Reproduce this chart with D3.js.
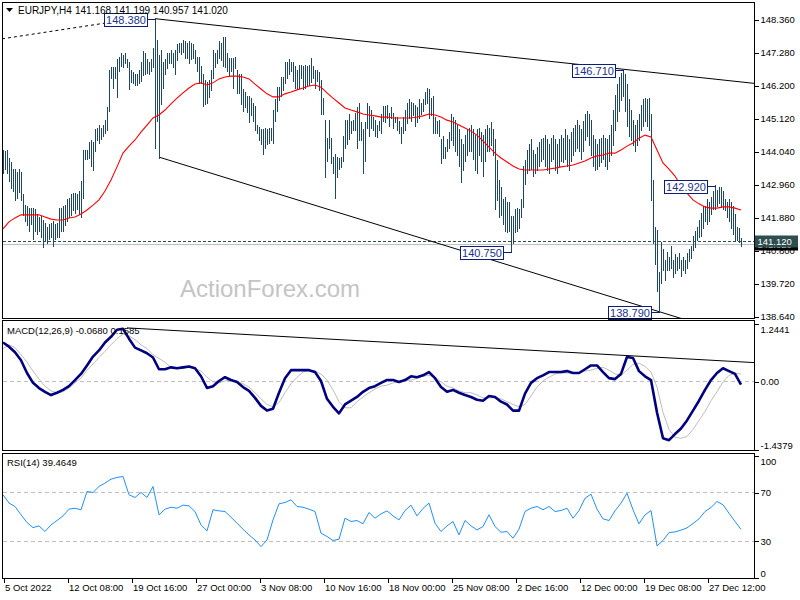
<!DOCTYPE html>
<html>
<head>
<meta charset="utf-8">
<script src="https://cdn.jsdelivr.net/npm/d3@7"></script>
<style>
  body { margin: 0; background: #fff; }
</style>
</head>
<body>
<div id="chart"></div>
<script>
// ---- data (EURJPY H4) ----
var barHigh = [
  144.05,144.02,144.08,143.82,143.66,143.43,143.43,143.33,143.43,143.33,
  142.61,142.28,142.22,142.18,142.18,142.18,142.12,141.96,141.86,141.89,
  141.79,141.69,141.56,141.63,141.69,141.73,141.63,141.69,142.18,142.18,
  142.22,142.28,142.45,142.51,142.61,142.67,142.67,142.61,142.71,143.04,
  144.08,144.08,144.08,144.34,144.38,144.34,144.74,144.80,144.87,144.80,
  144.87,145.06,145.46,146.70,146.77,146.77,146.77,147.03,147.12,147.25,
  147.19,147.25,147.03,146.96,146.70,146.63,146.54,146.54,146.70,146.93,
  147.29,147.25,147.03,146.96,147.03,147.42,148.38,147.68,147.19,147.35,
  146.96,147.03,147.25,147.25,147.35,147.25,147.35,147.52,147.58,147.58,
  147.68,147.62,147.58,147.62,147.58,147.52,147.35,147.12,147.12,146.80,
  146.54,146.37,146.28,146.37,146.70,147.35,147.25,147.35,147.62,147.58,
  147.75,147.75,147.25,147.09,147.09,147.09,147.12,146.70,146.54,146.54,
  146.05,145.95,145.82,145.82,145.78,145.62,145.49,144.90,144.83,144.74,
  144.74,144.80,144.74,144.80,144.80,145.39,145.72,146.14,146.14,146.44,
  146.44,146.93,146.93,147.03,146.96,146.96,146.80,146.70,146.86,146.86,
  146.80,146.86,146.80,146.86,147.09,146.80,146.70,146.70,146.63,146.37,
  145.78,145.06,144.47,145.06,144.47,143.85,143.92,143.85,143.82,143.85,
  144.51,145.06,145.06,145.23,145.00,145.06,145.29,145.46,145.62,144.97,
  144.74,144.97,145.62,145.49,145.39,145.16,145.06,144.90,145.00,145.23,
  145.49,145.49,145.55,145.29,145.46,145.29,145.16,145.13,145.00,144.83,
  145.16,145.39,145.62,145.72,145.65,145.62,145.55,145.46,145.72,145.62,
  145.72,145.95,146.11,146.05,145.78,145.82,145.16,145.00,145.06,144.41,
  144.51,144.18,144.41,144.64,145.23,145.13,145.06,144.90,144.74,144.41,
  144.25,144.57,144.74,144.80,144.90,144.74,144.57,144.74,144.80,144.67,
  144.57,144.74,144.90,144.80,144.97,144.74,144.41,143.75,143.10,142.87,
  142.45,142.54,142.38,142.35,141.89,141.89,142.12,142.18,142.12,142.45,
  143.53,143.75,144.08,144.25,144.41,144.08,143.92,144.15,144.34,144.41,
  144.47,144.57,144.41,144.25,144.47,144.57,144.41,144.25,144.41,144.57,
  144.47,144.74,144.57,144.41,144.67,144.80,144.90,145.06,144.90,144.74,
  145.00,145.23,145.33,145.23,145.06,144.57,144.41,144.25,144.41,144.47,
  144.57,144.47,144.41,144.57,144.90,145.39,145.88,146.21,146.44,146.60,
  146.71,146.54,146.21,145.72,145.39,145.06,144.90,145.06,145.23,145.55,
  145.72,145.78,145.72,145.78,145.23,143.10,141.56,141.46,140.06,141.04,
  140.81,140.48,140.74,140.58,140.91,140.48,140.65,140.58,140.71,140.48,
  140.58,140.48,140.71,140.81,140.91,141.24,141.40,141.56,141.79,142.02,
  142.22,142.22,142.45,142.35,142.54,142.71,142.92,142.77,142.87,142.84,
  142.71,142.45,142.38,142.45,142.38,142.22,141.96,141.56,141.50,141.199
];
var barLow = [
  143.33,143.49,143.36,143.10,142.87,142.77,142.45,142.54,142.71,142.45,
  141.96,141.79,141.63,141.46,141.69,141.20,141.46,141.36,141.46,141.24,
  140.91,141.14,141.07,141.20,141.24,140.97,141.20,141.24,141.24,141.46,
  141.46,141.63,141.79,141.89,141.96,142.12,142.05,142.18,142.02,141.89,
  142.54,143.82,143.82,143.85,143.59,143.43,144.08,144.41,144.34,144.47,
  144.57,144.64,144.74,145.39,146.44,146.14,146.47,145.82,146.70,146.86,
  146.80,146.93,146.80,146.11,146.31,146.28,146.21,146.21,146.28,146.37,
  146.54,146.60,146.63,146.60,146.70,146.80,144.15,145.06,143.85,145.62,
  146.14,146.60,146.77,146.93,146.96,146.80,146.60,147.03,147.29,147.25,
  147.29,147.12,147.12,146.96,147.09,147.12,146.93,146.70,146.28,146.28,
  145.55,145.62,145.65,145.82,146.05,146.47,146.80,146.93,147.12,147.03,
  146.86,146.80,146.70,146.54,146.70,146.14,146.77,145.98,145.95,145.62,
  145.39,145.49,145.33,145.00,145.23,145.06,144.74,144.64,144.41,144.31,
  143.98,144.18,144.31,144.34,144.41,144.34,145.06,145.39,145.72,145.88,
  146.05,146.28,146.47,146.60,146.70,146.37,146.14,146.11,146.14,146.44,
  146.11,146.14,146.21,146.21,146.31,146.47,146.14,146.37,146.05,145.29,
  145.29,143.20,143.75,144.18,143.66,143.33,142.54,143.20,143.49,143.53,
  143.75,144.18,144.31,144.47,144.64,144.74,144.74,144.18,144.41,144.41,
  143.36,143.75,144.83,144.57,144.83,144.74,144.57,144.51,144.74,144.64,
  145.06,145.00,145.13,144.90,145.16,144.83,145.00,144.74,144.64,144.34,
  144.64,144.74,144.97,145.16,145.06,145.23,144.90,145.00,145.16,145.29,
  145.39,145.62,145.65,145.16,145.23,144.64,144.67,144.64,144.57,143.66,
  143.85,143.85,144.08,144.18,144.41,144.25,144.08,143.92,143.59,143.04,
  143.43,143.75,143.92,144.08,144.08,143.82,143.43,143.36,143.92,143.75,
  143.26,143.75,144.08,144.08,144.25,143.92,142.18,142.45,141.89,141.96,
  141.69,141.46,141.40,141.46,140.75,141.04,141.40,141.46,141.56,141.89,
  142.22,143.00,143.33,143.43,143.49,143.26,143.36,143.43,143.59,143.75,
  143.82,143.59,143.43,143.36,143.75,143.82,143.43,143.36,143.59,143.75,
  143.69,143.82,143.59,143.43,143.75,143.92,144.08,144.15,144.08,143.82,
  144.08,144.41,144.57,144.25,143.92,143.59,143.43,143.49,143.59,143.69,
  143.82,143.59,143.49,143.75,143.92,144.25,144.74,145.06,145.39,145.72,
  145.88,145.39,144.90,144.57,144.41,144.25,144.08,144.25,144.41,144.74,
  144.90,145.06,144.90,144.74,142.45,141.04,140.38,139.50,138.79,139.73,
  140.16,139.83,140.16,140.16,140.25,139.93,140.06,140.16,140.25,139.99,
  140.16,140.06,140.25,140.48,140.58,140.81,140.91,141.14,141.24,141.30,
  141.56,141.79,141.69,141.79,142.02,142.18,142.18,142.28,142.35,142.22,
  142.18,142.12,141.89,141.79,141.56,141.36,141.14,141.14,141.10,140.957
];

// indicator values, one every 3 bars
var indStep = 3;
var maValues = [
  141.50,141.73,141.86,141.96,141.96,141.96,141.96,141.89,141.82,141.79,
  141.79,141.86,141.89,141.99,142.12,142.28,142.45,142.74,143.10,143.53,
  143.98,144.21,144.41,144.67,144.90,145.13,145.23,145.39,145.59,145.78,
  145.95,146.11,146.24,146.28,146.21,146.28,146.41,146.47,146.50,146.50,
  146.47,146.41,146.24,146.08,145.92,145.82,145.82,145.92,145.98,146.05,
  146.11,146.18,146.21,146.14,145.95,145.78,145.62,145.46,145.39,145.33,
  145.26,145.23,145.20,145.16,145.16,145.13,145.13,145.13,145.13,145.16,
  145.20,145.26,145.23,145.16,145.06,145.00,144.90,144.80,144.70,144.57,
  144.38,144.18,143.98,143.82,143.69,143.56,143.46,143.43,143.43,143.43,
  143.43,143.46,143.49,143.53,143.56,143.59,143.66,143.72,143.82,143.89,
  143.92,143.98,143.98,144.08,144.21,144.31,144.47,144.57,144.51,144.08,
  143.66,143.46,143.23,142.90,142.67,142.45,142.32,142.22,142.18,142.18,
  142.22,142.22,142.18,142.12
];
var macdMain = [
  0.83,0.74,0.62,0.45,0.18,-0.03,-0.14,-0.22,-0.29,-0.24,
  -0.18,-0.10,0.03,0.16,0.34,0.53,0.66,0.83,0.95,1.10,
  1.12,0.91,0.72,0.66,0.60,0.51,0.26,0.26,0.30,0.28,
  0.30,0.32,0.28,0.11,-0.14,-0.10,0.01,0.09,0.03,-0.01,
  -0.12,-0.20,-0.35,-0.52,-0.62,-0.58,-0.24,0.07,0.24,0.24,
  0.24,0.24,0.20,0.01,-0.37,-0.54,-0.68,-0.49,-0.41,-0.33,
  -0.22,-0.14,-0.10,-0.03,0.03,0.03,-0.01,0.03,0.11,0.09,
  0.13,0.20,0.07,-0.12,-0.22,-0.18,-0.24,-0.29,-0.33,-0.39,
  -0.41,-0.31,-0.33,-0.43,-0.49,-0.62,-0.62,-0.26,-0.03,0.07,
  0.13,0.20,0.20,0.20,0.22,0.18,0.18,0.26,0.34,0.34,
  0.20,0.07,0.05,0.16,0.52,0.50,0.22,0.11,0.03,-0.66,
  -1.21,-1.25,-1.12,-1.00,-0.83,-0.62,-0.41,-0.18,0.03,0.18,
  0.28,0.22,0.16,-0.068
];
var macdSignal = [
  0.70,0.78,0.72,0.57,0.41,0.22,0.05,-0.10,-0.20,-0.24,
  -0.22,-0.14,-0.03,0.07,0.24,0.37,0.51,0.64,0.78,0.91,
  1.01,0.97,0.89,0.78,0.70,0.57,0.49,0.41,0.30,0.28,
  0.28,0.30,0.28,0.22,0.09,-0.01,-0.03,0.01,0.03,0.01,
  -0.05,-0.12,-0.24,-0.37,-0.49,-0.54,-0.45,-0.24,-0.05,0.09,
  0.20,0.24,0.22,0.16,0.03,-0.18,-0.43,-0.56,-0.56,-0.43,
  -0.33,-0.24,-0.16,-0.10,-0.08,-0.03,-0.01,0.01,0.03,0.07,
  0.11,0.13,0.09,-0.01,-0.10,-0.14,-0.20,-0.24,-0.24,-0.29,
  -0.35,-0.35,-0.35,-0.37,-0.43,-0.49,-0.54,-0.49,-0.31,-0.12,
  0.01,0.09,0.16,0.18,0.18,0.18,0.18,0.22,0.24,0.28,
  0.30,0.24,0.16,0.13,0.24,0.36,0.39,0.32,0.20,-0.12,
  -0.66,-1.02,-1.19,-1.21,-1.17,-1.02,-0.83,-0.64,-0.41,-0.22,
  -0.01,0.13,0.18,0.1585
];
var rsiValues = [
  67.8,61.0,58.2,51.4,45.1,40.9,42.3,37.7,43.1,46.7,
  50.5,56.0,56.8,55.5,70.5,69.7,74.6,77.4,80.6,82.0,
  82.8,67.8,65.6,69.7,65.6,74.6,51.4,56.0,57.6,56.8,
  59.3,58.7,54.1,43.1,38.2,55.5,54.6,54.1,49.4,44.5,
  39.6,34.9,30.8,25.3,30.8,47.2,60.4,61.5,63.7,58.2,
  57.6,56.0,54.1,36.3,33.6,30.3,31.4,48.6,45.9,46.7,
  44.0,53.3,48.6,52.2,54.6,50.5,47.2,54.9,59.3,50.5,
  56.6,61.0,44.5,37.7,42.3,45.9,34.9,46.7,42.3,39.0,
  41.8,51.4,41.8,37.1,37.7,32.2,39.6,54.1,56.8,58.2,
  55.5,58.2,54.1,54.9,56.8,48.6,54.9,65.0,68.3,56.0,
  48.1,46.7,54.6,61.0,69.1,55.5,44.0,51.4,54.9,25.9,
  30.3,36.8,37.4,38.8,40.7,44.2,48.1,54.1,57.4,62.3,
  59.6,52.7,45.9,39.46
];

var priceTicks = [148.36, 147.28, 146.20, 145.12, 144.04, 142.96, 141.88, 140.80, 139.72, 138.64];
var macdTicks = [1.2441, 0, -1.4379];
var rsiTicks = [100, 70, 30, 0];
var rsiLevels = [70, 30];
var timeTickIdx = [0, 32, 64, 96, 128, 160, 192, 224, 256, 288, 320, 352];
var timeTickLabels = ["5 Oct 2022", "12 Oct 08:00", "19 Oct 16:00", "27 Oct 00:00", "3 Nov 08:00",
  "10 Nov 16:00", "18 Nov 00:00", "25 Nov 08:00", "2 Dec 16:00", "12 Dec 00:00", "19 Dec 08:00", "27 Dec 12:00"];

// swing labels: bar index and price
var swingIdx = [76, 310, 356, 254, 328];
var swingPrice = [148.38, 146.71, 142.92, 140.75, 138.79];

// trend lines as [index, price] pairs
var dottedLine = [[-0.5, 147.72], [51.5, 148.24]];
var upperLine = [[76, 148.38], [376, 146.26]];
var lowerLine = [[78, 143.85], [345, 138.45]];
var macdLine = [[62, 1.14], [376, 0.40]];

var hLinePrice = 141.12;
var bidPrice = 141.02;
var symbol = "EURJPY,H4";
var ohlc = "141.168 141.199 140.957 141.020";
var macdTitle = "MACD(12,26,9) -0.0680 0.1585";
var rsiTitle = "RSI(14) 39.4649";

// ---- chart ----
var font = '"Liberation Sans", Arial, sans-serif';
var svg = d3.select("#chart").append("svg")
  .attr("width", 800).attr("height", 600)
  .style("font-family", font);

var panels = {
  main: { top: 2.5, bottom: 318.5 },
  macd: { top: 320.5, bottom: 450.5 },
  rsi:  { top: 453.5, bottom: 578.5 }
};
var left = 2.5, right = 754.5;

var x = d3.scaleLinear().domain([0, barHigh.length - 1]).range([3, 741]);
var yPrice = d3.scaleLinear().domain([138.64, 148.36]).range([316.3, 19.3]);
var yMacd = d3.scaleLinear().domain([-1.4379, 1.2441]).range([449, 323]);
var yRsi = d3.scaleLinear().domain([0, 100]).range([577.5, 455.5]);

function px(i) { return Math.round(x(i)) + 0.5; }

var defs = svg.append("defs");
Object.keys(panels).forEach(function(k) {
  var p = panels[k];
  defs.append("clipPath").attr("id", "clip-" + k)
    .append("rect")
    .attr("x", left + 0.5).attr("y", p.top + 0.5)
    .attr("width", right - left - 1).attr("height", p.bottom - p.top - 1);
});

// watermark
svg.append("text")
  .attr("x", 180).attr("y", 297)
  .attr("font-size", 24)
  .attr("fill", "#c4c4c4")
  .text("ActionForex.com");

// ---------- main panel ----------
var main = svg.append("g").attr("clip-path", "url(#clip-main)");

main.append("line")
  .attr("x1", left).attr("x2", right)
  .attr("y1", Math.round(yPrice(bidPrice)) + 0.5).attr("y2", Math.round(yPrice(bidPrice)) + 0.5)
  .attr("stroke", "#c0c0c0").attr("shape-rendering", "crispEdges");

main.append("line")
  .attr("x1", left).attr("x2", right)
  .attr("y1", Math.round(yPrice(hLinePrice)) + 0.5).attr("y2", Math.round(yPrice(hLinePrice)) + 0.5)
  .attr("stroke", "#2f4f4f").attr("stroke-dasharray", "3,2")
  .attr("shape-rendering", "crispEdges");

var tl = d3.line().x(d => x(d[0])).y(d => yPrice(d[1]));
main.append("path").attr("d", tl(dottedLine))
  .attr("fill", "none").attr("stroke", "#000").attr("stroke-dasharray", "3,3");
main.append("path").attr("d", tl(upperLine)).attr("fill", "none").attr("stroke", "#000");
main.append("path").attr("d", tl(lowerLine)).attr("fill", "none").attr("stroke", "#000");

// price bars (high-low)
main.selectAll("line.bar")
  .data(barHigh)
  .enter().append("line")
  .attr("class", "bar")
  .attr("x1", (d, i) => px(i)).attr("x2", (d, i) => px(i))
  .attr("y1", d => Math.floor(yPrice(d)))
  .attr("y2", (d, i) => Math.ceil(yPrice(barLow[i])) + 1)
  .attr("stroke", "#1c4862")
  .attr("shape-rendering", "crispEdges");

// moving average
main.append("path")
  .datum(maValues)
  .attr("fill", "none")
  .attr("stroke", "#ff0000")
  .attr("stroke-width", 1.1)
  .attr("d", d3.line().x((d, k) => x(k * indStep)).y(d => yPrice(d)));

// swing labels
var boxW = 43, boxH = 13;
swingIdx.forEach(function(idx, j) {
  var bx = px(idx), by = Math.round(yPrice(swingPrice[j])) + 0.5;
  var rx = Math.round(bx - 9);
  svg.append("line")
    .attr("x1", rx).attr("x2", bx).attr("y1", by).attr("y2", by)
    .attr("stroke", "#0b1f7a").attr("shape-rendering", "crispEdges");
  svg.append("rect")
    .attr("x", rx - boxW + 0.5).attr("y", by - boxH / 2)
    .attr("width", boxW).attr("height", boxH)
    .attr("fill", "#fff").attr("stroke", "#0b1f7a")
    .attr("shape-rendering", "crispEdges");
  svg.append("text")
    .attr("x", rx - boxW / 2 + 0.5).attr("y", by + 4)
    .attr("text-anchor", "middle")
    .attr("font-size", 11)
    .attr("fill", "#1a3290")
    .text(swingPrice[j].toFixed(3));
});

// ---------- MACD panel ----------
var macdG = svg.append("g").attr("clip-path", "url(#clip-macd)");
macdG.append("line")
  .attr("x1", left).attr("x2", right)
  .attr("y1", Math.round(yMacd(0)) + 0.5).attr("y2", Math.round(yMacd(0)) + 0.5)
  .attr("stroke", "#c0c0c0").attr("stroke-dasharray", "4,3")
  .attr("shape-rendering", "crispEdges");
macdG.append("path")
  .datum(macdSignal)
  .attr("fill", "none").attr("stroke", "#bdbdbd").attr("stroke-width", 1)
  .attr("d", d3.line().x((d, k) => x(k * indStep)).y(d => yMacd(d)));
macdG.append("path")
  .datum(macdMain)
  .attr("fill", "none").attr("stroke", "#000080").attr("stroke-width", 2.6)
  .attr("stroke-linejoin", "round")
  .attr("d", d3.line().x((d, k) => x(k * indStep)).y(d => yMacd(d)));
macdG.append("path")
  .attr("d", d3.line().x(d => x(d[0])).y(d => yMacd(d[1]))(macdLine))
  .attr("fill", "none").attr("stroke", "#000");

// ---------- RSI panel ----------
var rsiG = svg.append("g").attr("clip-path", "url(#clip-rsi)");
rsiG.selectAll("line.lvl")
  .data(rsiLevels)
  .enter().append("line")
  .attr("x1", left).attr("x2", right)
  .attr("y1", d => Math.round(yRsi(d)) + 0.5).attr("y2", d => Math.round(yRsi(d)) + 0.5)
  .attr("stroke", "#c0c0c0").attr("stroke-dasharray", "4,3")
  .attr("shape-rendering", "crispEdges");
rsiG.append("path")
  .datum(rsiValues)
  .attr("fill", "none").attr("stroke", "#1e90ff").attr("stroke-width", 1)
  .attr("d", d3.line().x((d, k) => x(k * indStep)).y(d => yRsi(d)));

// ---------- frames ----------
Object.keys(panels).forEach(function(k) {
  var p = panels[k];
  svg.append("rect")
    .attr("x", left).attr("y", p.top)
    .attr("width", right - left).attr("height", p.bottom - p.top)
    .attr("fill", "none").attr("stroke", "#000")
    .attr("shape-rendering", "crispEdges");
});

// panel titles
svg.append("path").attr("d", "M6,8 L13,8 L9.5,12 Z").attr("fill", "#000");
svg.append("text").attr("x", 18).attr("y", 14).attr("font-size", 10).attr("fill", "#000").text(symbol);
svg.append("text").attr("x", 75).attr("y", 14).attr("font-size", 10).attr("fill", "#000").text(ohlc);
svg.append("text").attr("x", 7).attr("y", 334).attr("font-size", 9.5).attr("fill", "#000").text(macdTitle);
svg.append("text").attr("x", 7).attr("y", 466).attr("font-size", 9.5).attr("fill", "#000").text(rsiTitle);

// ---------- axes ----------
function styleAxis(g) {
  g.select(".domain").remove();
  g.attr("font-family", font).attr("font-size", 9.5);
  g.selectAll("line").attr("stroke", "#000").attr("shape-rendering", "crispEdges");
  g.selectAll("text").attr("fill", "#000");
}

svg.append("g")
  .attr("transform", "translate(" + right + ",0.5)")
  .call(d3.axisRight(yPrice).tickValues(priceTicks).tickSize(4).tickPadding(2)
    .tickFormat(d3.format(".3f")))
  .call(styleAxis);

var macdAxis = svg.append("g")
  .attr("transform", "translate(" + right + ",0.5)")
  .call(d3.axisRight(yMacd).tickValues(macdTicks).tickSize(4).tickPadding(2)
    .tickFormat(d => d === 0 ? "0.00" : d.toFixed(4)))
  .call(styleAxis);
macdAxis.selectAll("text").attr("dy", d => d > 0 ? "0.95em" : (d < 0 ? "-0.1em" : "0.32em"));

var rsiAxis = svg.append("g")
  .attr("transform", "translate(" + right + ",0.5)")
  .call(d3.axisRight(yRsi).tickValues(rsiTicks).tickSize(4).tickPadding(2))
  .call(styleAxis);
rsiAxis.selectAll("text").attr("dy", d => d === 100 ? "0.85em" : (d === 0 ? "-0.2em" : "0.32em"));

var timeAxis = svg.append("g")
  .attr("transform", "translate(0.5," + panels.rsi.bottom + ")")
  .call(d3.axisBottom(x).tickValues(timeTickIdx).tickSize(4).tickPadding(2)
    .tickFormat((d, i) => timeTickLabels[i]))
  .call(styleAxis);
timeAxis.selectAll("text").attr("text-anchor", "start").attr("x", 1);

// current price boxes on the price scale
svg.append("rect")
  .attr("x", right + 0.5).attr("y", Math.round(yPrice(bidPrice)) - 5.5)
  .attr("width", 43).attr("height", 12).attr("fill", "#000");
svg.append("text")
  .attr("x", right + 3).attr("y", Math.round(yPrice(bidPrice)) + 4)
  .attr("font-size", 9.5).attr("fill", "#fff").text(bidPrice.toFixed(3));
svg.append("rect")
  .attr("x", right + 0.5).attr("y", Math.round(yPrice(hLinePrice)) - 5.5)
  .attr("width", 43).attr("height", 12).attr("fill", "#2f4f4f");
svg.append("text")
  .attr("x", right + 3).attr("y", Math.round(yPrice(hLinePrice)) + 4)
  .attr("font-size", 9.5).attr("fill", "#fff").text(hLinePrice.toFixed(3));
</script>
</body>
</html>
